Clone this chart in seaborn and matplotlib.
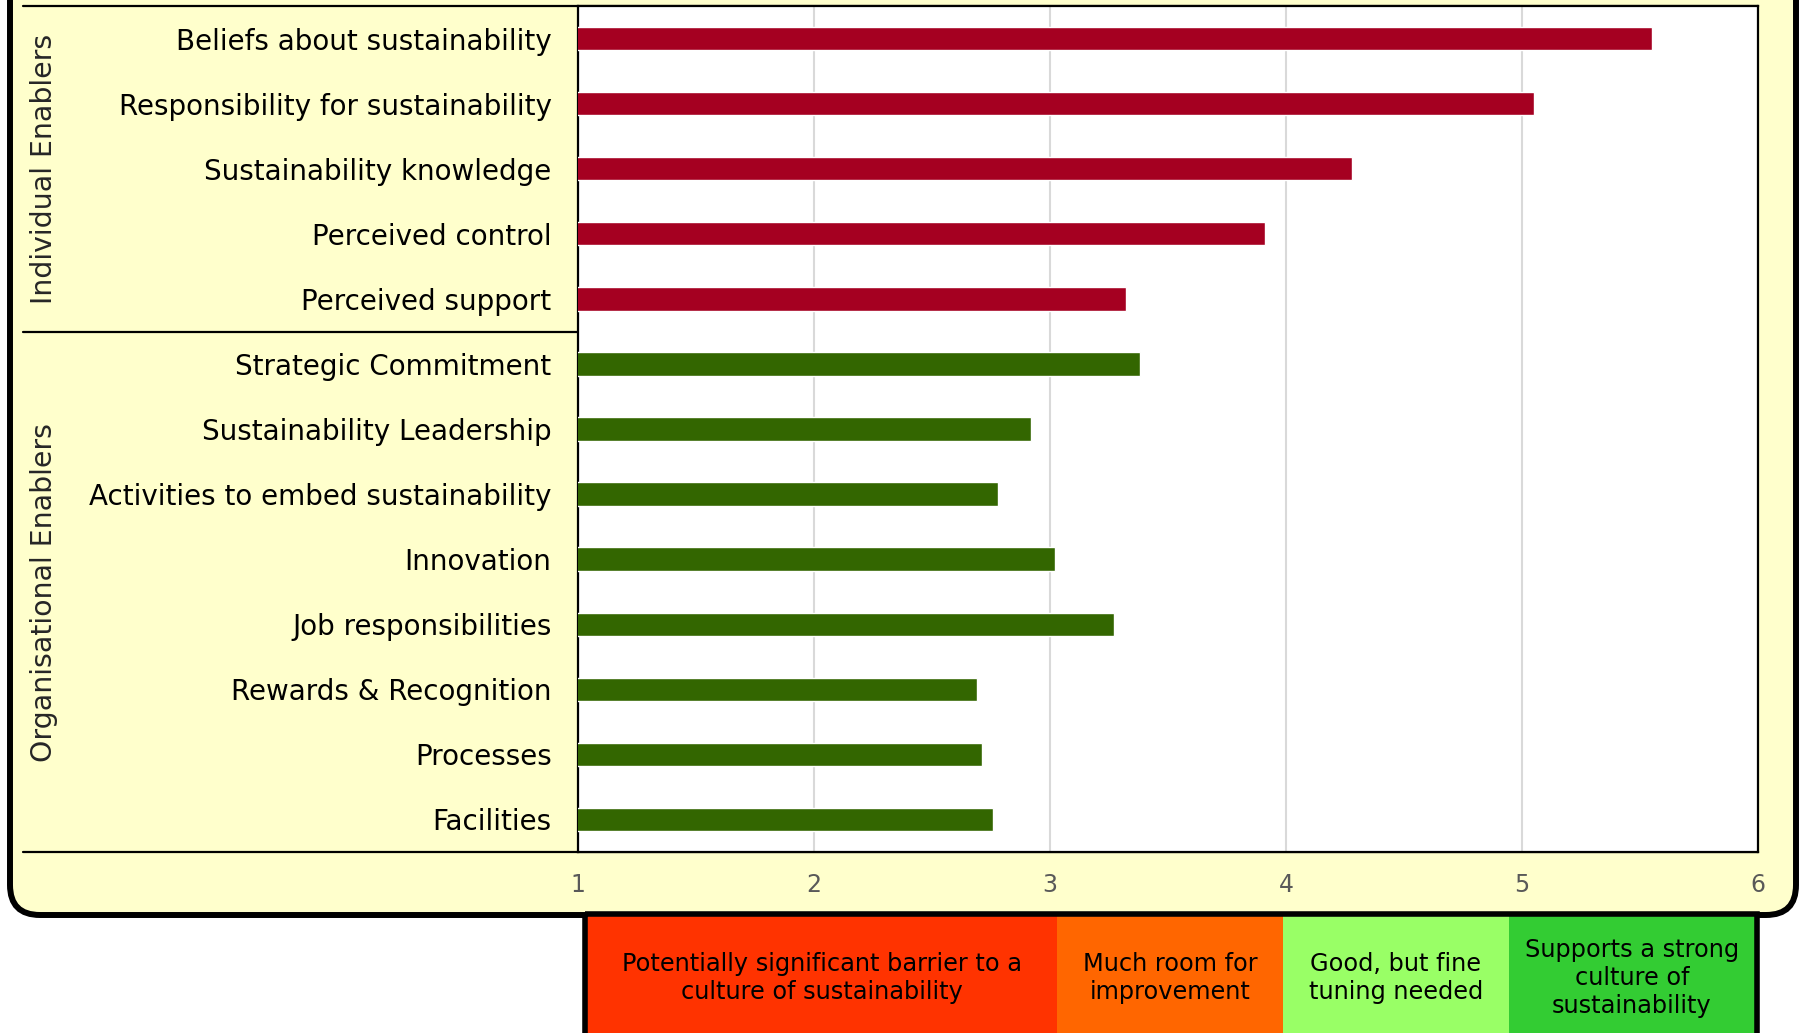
import matplotlib
matplotlib.use('Agg')
import matplotlib.pyplot as plt
import pandas as pd
import seaborn as sns
from matplotlib.patches import FancyBboxPatch, Rectangle

# Data
categories = ['Beliefs about sustainability', 'Responsibility for sustainability',
              'Sustainability knowledge', 'Perceived control', 'Perceived support',
              'Strategic Commitment', 'Sustainability Leadership',
              'Activities to embed sustainability', 'Innovation',
              'Job responsibilities', 'Rewards & Recognition', 'Processes',
              'Facilities']
scores = [5.55, 5.05, 4.28, 3.91, 3.32, 3.38, 2.92, 2.78, 3.02, 3.27, 2.69,
          2.71, 2.76]
groups = ['Individual Enablers'] * 5 + ['Organisational Enablers'] * 8
group_colors = {'Individual Enablers': '#A50021',
                'Organisational Enablers': '#336600'}
x_ticks = [1, 2, 3, 4, 5, 6]
band_labels = ['Potentially significant barrier to a\nculture of sustainability',
               'Much room for\nimprovement',
               'Good, but fine\ntuning needed',
               'Supports a strong\nculture of\nsustainability']
band_colors = ['#FF3300', '#FF6600', '#99FF66', '#33CC33']

df = pd.DataFrame({'category': categories, 'score': scores, 'group': groups})

sns.set_style('white')
plt.rcParams['font.family'] = ['DejaVu Sans']

W, H = 1803, 1033
fig = plt.figure(figsize=(W / 100, H / 100), dpi=100)
fig.patch.set_facecolor('white')

# background canvas in pixel coords
bg = fig.add_axes([0, 0, 1, 1])
bg.set_xlim(0, W)
bg.set_ylim(H, 0)
bg.axis('off')

# outer rounded yellow panel
bg.add_patch(FancyBboxPatch((10, -60), 1786, 975,
                            boxstyle='round,pad=0,rounding_size=30',
                            fc='#FFFFCC', ec='black', lw=4.3, zorder=1))

# legend band below the panel
edges = [587, 1057, 1283, 1509, 1755]
for i, (lab, col) in enumerate(zip(band_labels, band_colors)):
    bg.add_patch(Rectangle((edges[i], 915), edges[i + 1] - edges[i], 130,
                           fc=col, ec='none', zorder=2))
    bg.text((edges[i] + edges[i + 1]) / 2, 978, lab, ha='center', va='center',
            fontsize=17.3, color='black', linespacing=1.2, zorder=4)
bg.add_patch(Rectangle((edges[0] - 2, 914), edges[-1] - edges[0] + 4, 140,
                       fc='none', ec='black', lw=4, zorder=3))

# table lines for the label column
ax_l, ax_r, ax_t, ax_b = 578, 1758, 6, 852
bg.plot([23, ax_r], [ax_t, ax_t], color='black', lw=1.6, zorder=5)
bg.plot([23, ax_l], [332, 332], color='black', lw=1.6, zorder=5)
bg.plot([23, ax_r], [ax_b, ax_b], color='black', lw=1.6, zorder=5)

# group labels
bg.text(44, 169, 'Individual Enablers', rotation=90, ha='center',
        va='center', fontsize=20.4, zorder=5)
bg.text(44, 592, 'Organisational Enablers', rotation=90, ha='center',
        va='center', fontsize=20.4, zorder=5)

# main bar chart
ax = fig.add_axes([ax_l / W, (H - ax_b) / H, (ax_r - ax_l) / W,
                   (ax_b - ax_t) / H])
ax.set_facecolor('white')
sns.barplot(data=df, y='category', x='score', hue='group',
            palette=group_colors, orient='h', width=0.36, dodge=False,
            saturation=1, legend=False, ax=ax, zorder=3)
ax.set_xlim(1, 6)
ax.set_ylim(12.5, -0.5)
ax.set_xticks(x_ticks)
ax.set_xticklabels([str(t) for t in x_ticks])
ax.xaxis.grid(True, color='#D9D9D9', lw=1.5, zorder=0)
ax.set_axisbelow(True)
ax.set_xlabel('')
ax.set_ylabel('')
ax.tick_params(axis='x', length=0, pad=15, labelsize=17, labelcolor='#595959')
ax.tick_params(axis='y', length=0, pad=19, labelsize=20, labelcolor='black')
for s in ax.spines.values():
    s.set_color('black')
    s.set_linewidth(1.6)

fig.savefig('out.png', dpi=100)
